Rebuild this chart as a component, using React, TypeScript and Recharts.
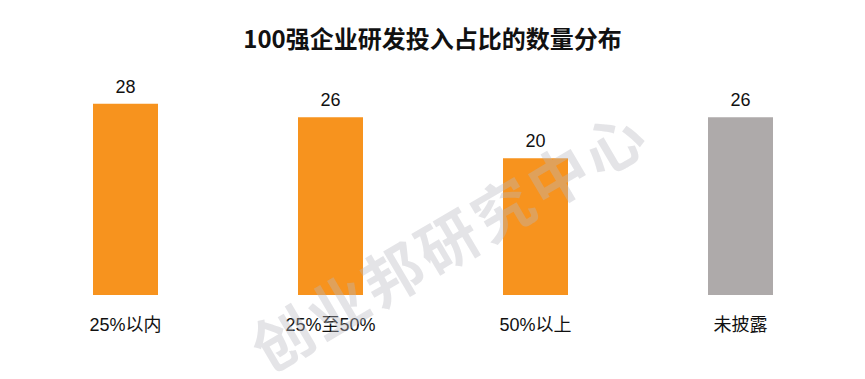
import React from 'react';
import { BarChart, Bar, XAxis, YAxis, LabelList, Cell } from 'recharts';

const categories = ['25%以内', '25%至50%', '50%以上', '未披露'];
const counts = [28, 26, 20, 26];
const barColors = ['#F7931E', '#F7931E', '#F7931E', '#AEAAAA'];

const data = categories.map((name, i) => ({ name, value: counts[i] }));

const FONT = '"Liberation Sans", Arial, "Noto Sans CJK SC", sans-serif';

const CategoryTick = (props: any) => {
  const { x, y, payload } = props;
  return (
    <text x={x} y={y + 22} textAnchor="middle" dominantBaseline="central" fontSize={18} fill="#111" fontFamily={FONT}>
      {payload.value}
    </text>
  );
};

const App: React.FC = () => {
  return (
    <div style={{ position: 'absolute', left: 0, top: 0, width: 865, height: 379, background: '#fff' }}>
      <div
        style={{
          position: 'absolute',
          top: 22,
          left: 0,
          width: 865,
          textAlign: 'center',
          fontFamily: '"Noto Sans CJK SC", sans-serif',
          fontWeight: 700,
          fontSize: 24,
          lineHeight: '32px',
          color: '#111',
        }}
      >
        100强企业研发投入占比的数量分布
      </div>
      <BarChart
        width={865}
        height={379}
        data={data}
        margin={{ top: 90, right: 22, left: 23, bottom: 54 }}
        barCategoryGap={70}
      >
        <XAxis dataKey="name" axisLine={false} tickLine={false} tick={<CategoryTick />} height={30} interval={0} />
        <YAxis hide domain={[0, 30]} />
        <Bar dataKey="value" isAnimationActive={false}>
          {data.map((d, i) => (
            <Cell key={d.name} fill={barColors[i]} />
          ))}
          <LabelList dataKey="value" position="top" offset={11} fontSize={18} fill="#111" fontFamily={FONT} />
        </Bar>
      </BarChart>
      <div
        style={{
          position: 'absolute',
          left: 198,
          top: 203,
          width: 500,
          height: 70,
          textAlign: 'center',
          transform: 'rotate(-30.5deg)',
          whiteSpace: 'nowrap',
          fontFamily: '"Noto Sans CJK SC", sans-serif',
          fontWeight: 700,
          fontSize: 60,
          lineHeight: '70px',
          letterSpacing: 4,
          color: 'rgba(185,185,192,0.38)',
          pointerEvents: 'none',
        }}
      >
        创业邦研究中心
      </div>
    </div>
  );
};

export default App;
